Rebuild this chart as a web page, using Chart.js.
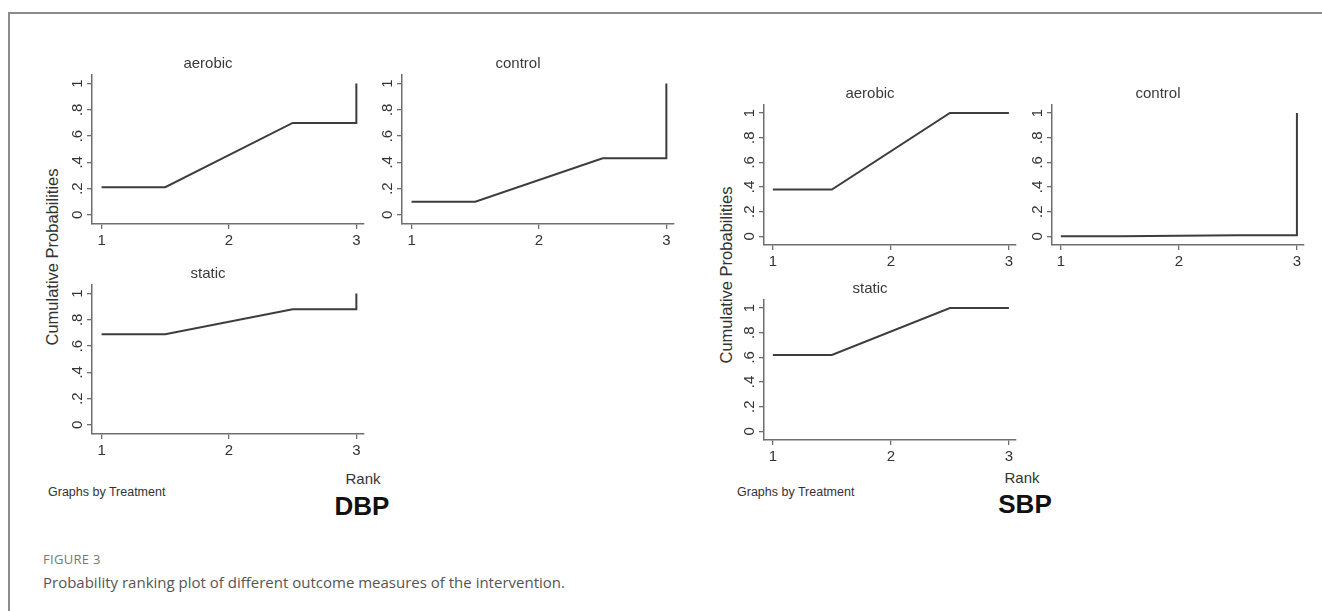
<!DOCTYPE html>
<html>
<head>
<meta charset="utf-8">
<script src="https://cdn.jsdelivr.net/npm/chart.js@4.4.1/dist/chart.umd.min.js"></script>
<style>
html,body{margin:0;padding:0;background:#fff;}
body{width:1322px;height:611px;position:relative;overflow:hidden;font-family:"Liberation Sans",Arial,sans-serif;}
#frame{position:absolute;left:8px;top:12px;width:1330px;height:620px;border-top:2px solid #8c8c8c;border-left:2px solid #8c8c8c;}
canvas{position:absolute;}
.lbl{position:absolute;white-space:nowrap;color:#333;line-height:1;}
.c{transform:translate(-50%,-50%);}
.v{transform:translate(-50%,-50%) rotate(-90deg);}
.cap{font-family:"Open Sans","Noto Sans",sans-serif;}
</style>
</head>
<body>
<div id="frame"></div>

<div class="lbl v" style="left:52px;top:257px;font-size:16.5px;">Cumulative Probabilities</div>
<div class="lbl c" style="left:363px;top:478px;font-size:15px;">Rank</div>
<div class="lbl" style="left:48px;top:486px;font-size:12.5px;">Graphs by Treatment</div>
<div class="lbl c" style="left:362px;top:506px;font-size:26px;font-weight:bold;color:#111;">DBP</div>

<div class="lbl v" style="left:726px;top:275px;font-size:16.5px;">Cumulative Probabilities</div>
<div class="lbl c" style="left:1022px;top:477px;font-size:15px;">Rank</div>
<div class="lbl" style="left:737px;top:486px;font-size:12.5px;">Graphs by Treatment</div>
<div class="lbl c" style="left:1025px;top:504px;font-size:26px;font-weight:bold;color:#111;">SBP</div>

<div class="lbl cap" style="left:43px;top:553px;font-size:13px;color:#777;letter-spacing:0.3px;">FIGURE 3</div>
<div class="lbl cap" style="left:43px;top:575px;font-size:15px;color:#555;">Probability ranking plot of different outcome measures of the intervention.</div>

<script>
// ---- data ----
const rankPositions = [1, 1.5, 2.5, 3, 3];
const xTickValues = [1, 2, 3];
const xTickLabels = ['1', '2', '3'];
const yTickValues = [0, 0.2, 0.4, 0.6, 0.8, 1];
const yTickLabels = ['0', '.2', '.4', '.6', '.8', '1'];
const treatments = ['aerobic', 'control', 'static'];

const dbpAerobic = [0.21, 0.21, 0.70, 0.70, 1.00];
const dbpControl = [0.10, 0.10, 0.43, 0.43, 1.00];
const dbpStatic  = [0.69, 0.69, 0.88, 0.88, 1.00];
const sbpAerobic = [0.38, 0.38, 1.00, 1.00, 1.00];
const sbpControl = [0.00, 0.00, 0.01, 0.01, 1.00];
const sbpStatic  = [0.62, 0.62, 1.00, 1.00, 1.00];

// ---- layout / style ----
const X_MIN = 0.925, X_MAX = 3.06, Y_MIN = -0.07, Y_MAX = 1.065;
const Y_W = 40, T_H = 20, X_H = 32, PAD_R = 14;
const FONT = '"Liberation Sans", Arial, sans-serif';
const AXIS_COLOR = '#6e6e6e';
const TEXT_COLOR = '#333';

const panels = [
  {title: treatments[0], values: dbpAerobic, left: 92,   top: 75,  w: 272, h: 149},
  {title: treatments[1], values: dbpControl, left: 402,  top: 75,  w: 272, h: 149},
  {title: treatments[2], values: dbpStatic,  left: 92,   top: 285, w: 272, h: 149},
  {title: treatments[0], values: sbpAerobic, left: 764,  top: 105, w: 252, h: 140},
  {title: treatments[1], values: sbpControl, left: 1052, top: 105, w: 252, h: 140},
  {title: treatments[2], values: sbpStatic,  left: 764,  top: 300, w: 252, h: 140}
];

const yLabelPlugin = {
  id: 'yRotLabels',
  afterDraw(chart) {
    const s = chart.scales.y, ctx = chart.ctx;
    ctx.save();
    ctx.fillStyle = TEXT_COLOR;
    ctx.font = '15px ' + FONT;
    ctx.textAlign = 'center';
    ctx.textBaseline = 'middle';
    yTickValues.forEach((v, i) => {
      const y = s.getPixelForValue(v);
      ctx.save();
      ctx.translate(chart.chartArea.left - 14, y);
      ctx.rotate(-Math.PI / 2);
      ctx.fillText(yTickLabels[i], 0, 0);
      ctx.restore();
    });
    ctx.restore();
  }
};

const gridOpts = {display: true, drawOnChartArea: false, drawTicks: true, tickLength: 5, color: AXIS_COLOR, lineWidth: 1.3};
const borderOpts = {display: true, color: AXIS_COLOR, width: 1.5};

panels.forEach(p => {
  const cv = document.createElement('canvas');
  const W = Y_W + p.w + PAD_R, H = T_H + p.h + X_H;
  cv.width = W; cv.height = H;
  cv.style.width = W + 'px'; cv.style.height = H + 'px';
  cv.style.left = (p.left - Y_W) + 'px';
  cv.style.top = (p.top - T_H) + 'px';
  document.body.appendChild(cv);

  new Chart(cv, {
    type: 'scatter',
    data: {
      datasets: [{
        data: rankPositions.map((x, i) => ({x: x, y: p.values[i]})),
        showLine: true,
        borderColor: '#3d3d3d',
        borderWidth: 2,
        pointRadius: 0,
        pointHoverRadius: 0,
        fill: false,
        tension: 0
      }]
    },
    options: {
      responsive: false,
      animation: false,
      devicePixelRatio: 1,
      events: [],
      layout: {padding: {left: 0, top: 0, right: PAD_R, bottom: 0}},
      plugins: {
        legend: {display: false},
        tooltip: {enabled: false},
        title: {
          display: true, text: p.title, color: '#3a3a3a',
          font: {family: FONT, size: 15, weight: 'normal', lineHeight: 1.2},
          padding: {top: 0, bottom: 2}
        }
      },
      scales: {
        x: {
          type: 'linear', min: X_MIN, max: X_MAX,
          afterBuildTicks: s => { s.ticks = xTickValues.map(v => ({value: v})); },
          afterFit: s => { s.height = X_H; },
          ticks: {
            callback: v => xTickLabels[xTickValues.indexOf(v)],
            color: TEXT_COLOR, font: {family: FONT, size: 15}, padding: 3,
            maxRotation: 0, minRotation: 0, autoSkip: false
          },
          grid: gridOpts, border: borderOpts
        },
        y: {
          type: 'linear', min: Y_MIN, max: Y_MAX,
          afterBuildTicks: s => { s.ticks = yTickValues.map(v => ({value: v})); },
          afterFit: s => { s.width = Y_W; },
          ticks: {display: false},
          grid: gridOpts, border: borderOpts
        }
      }
    },
    plugins: [yLabelPlugin]
  });
});
</script>
</body>
</html>
